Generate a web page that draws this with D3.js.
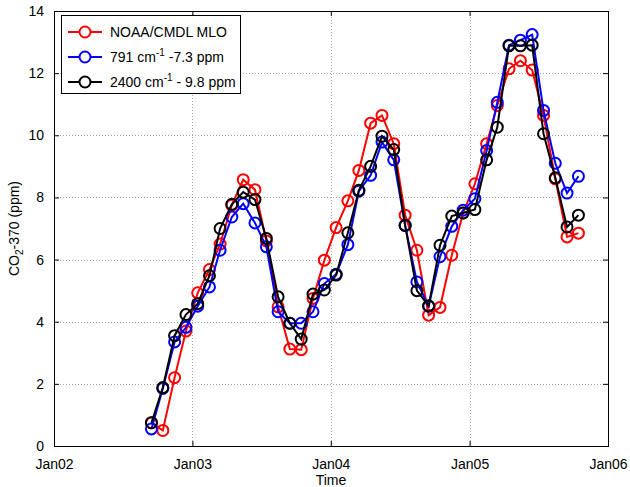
<!DOCTYPE html>
<html>
<head>
<meta charset="utf-8">
<script src="https://cdn.jsdelivr.net/npm/d3@7"></script>
<style>
  body { margin: 0; background: #fff; }
  svg { display: block; font-family: "Liberation Sans", Arial, sans-serif; }
</style>
</head>
<body>
<svg width="630" height="487"></svg>
<script>
// monthly values, Sep 2002 .. Oct 2005
const months = ["2002-09","2002-10","2002-11","2002-12","2003-01","2003-02","2003-03","2003-04",
  "2003-05","2003-06","2003-07","2003-08","2003-09","2003-10","2003-11","2003-12","2004-01",
  "2004-02","2004-03","2004-04","2004-05","2004-06","2004-07","2004-08","2004-09","2004-10",
  "2004-11","2004-12","2005-01","2005-02","2005-03","2005-04","2005-05","2005-06","2005-07",
  "2005-08","2005-09","2005-10"];

const noaa = [0.75, 0.5, 2.2, 3.7, 4.93, 5.68, 6.5, 7.75, 8.57, 8.25, 6.6, 4.48, 3.12, 3.1,
  4.75, 5.98, 7.03, 7.89, 8.87, 10.39, 10.64, 9.73, 7.43, 6.3, 4.21, 4.46, 6.14, 7.5, 8.44,
  9.73, 10.96, 12.14, 12.4, 12.1, 10.64, 8.6, 6.73, 6.85];

const band791 = [0.55, 1.85, 3.35, 3.82, 4.5, 5.12, 6.3, 7.37, 7.8, 7.18, 6.41, 4.32, 3.95, 3.95,
  4.32, 5.23, 5.53, 6.48, 8.2, 8.71, 9.78, 9.21, 7.1, 5.28, 4.5, 6.09, 7.07, 7.59, 7.96,
  9.51, 11.06, 12.9, 13.06, 13.24, 10.8, 9.1, 8.14, 8.68];

const band2400 = [0.75, 1.88, 3.55, 4.23, 4.58, 5.48, 7.0, 7.78, 8.17, 7.93, 6.68, 4.8, 3.95, 3.44,
  4.89, 5.02, 5.5, 6.86, 8.23, 9.0, 9.97, 9.54, 7.1, 5.0, 4.51, 6.46, 7.4, 7.5, 7.61,
  9.21, 10.26, 12.88, 12.88, 12.9, 10.05, 8.63, 7.05, 7.43];

const yTicks = [0, 2, 4, 6, 8, 10, 12, 14];
const xTickYears = [2002, 2003, 2004, 2005, 2006];

const svg = d3.select("svg");
const plotL = 54, plotR = 608, plotT = 11, plotB = 446;

const parseMonth = d3.timeParse("%Y-%m");
const dates = months.map(m => d3.timeDay.offset(parseMonth(m), 14)); // mid month

const x = d3.scaleTime()
  .domain([new Date(2002, 0, 1), new Date(2006, 0, 1)])
  .range([plotL, plotR]);
const y = d3.scaleLinear().domain([0, 14]).range([plotB, plotT]);

const xTicks = xTickYears.map(yr => new Date(yr, 0, 1));

// grid
const grid = svg.append("g")
  .attr("stroke", "#a8a8a8")
  .attr("stroke-width", 1)
  .attr("stroke-dasharray", "1,2");
grid.selectAll(".gx")
  .data(xTicks.slice(1, -1))
  .enter().append("line")
    .attr("x1", d => Math.round(x(d)) + 0.5)
    .attr("x2", d => Math.round(x(d)) + 0.5)
    .attr("y1", plotT)
    .attr("y2", plotB);
grid.selectAll(".gy")
  .data(yTicks.slice(1, -1))
  .enter().append("line")
    .attr("y1", d => Math.round(y(d)) + 0.5)
    .attr("y2", d => Math.round(y(d)) + 0.5)
    .attr("x1", plotL)
    .attr("x2", plotR);

// axes, ticks pointing inward like matlab
svg.append("g")
  .attr("transform", `translate(0,${plotB})`)
  .call(d3.axisBottom(x).tickValues(xTicks).tickFormat(d3.timeFormat("%b%y")).tickSizeInner(-5).tickSizeOuter(0).tickPadding(13));
svg.append("g")
  .attr("transform", `translate(0,${plotT})`)
  .call(d3.axisTop(x).tickValues(xTicks).tickFormat("").tickSizeInner(-5).tickSizeOuter(0));
svg.append("g")
  .attr("transform", `translate(${plotL},0)`)
  .call(d3.axisLeft(y).tickValues(yTicks).tickSizeInner(-5).tickSizeOuter(0).tickPadding(10));
svg.append("g")
  .attr("transform", `translate(${plotR},0)`)
  .call(d3.axisRight(y).tickValues(yTicks).tickFormat("").tickSizeInner(-5).tickSizeOuter(0));

svg.selectAll(".tick text")
  .attr("font-size", 14)
  .attr("font-family", "Liberation Sans, Arial, sans-serif")
  .attr("fill", "#000");
svg.selectAll(".domain").attr("stroke", "#000");

// box
svg.append("rect")
  .attr("x", plotL + 0.5).attr("y", plotT + 0.5)
  .attr("width", plotR - plotL).attr("height", plotB - plotT)
  .attr("fill", "none").attr("stroke", "#000");

// axis labels
svg.append("text")
  .attr("x", (plotL + plotR) / 2)
  .attr("y", 485)
  .attr("text-anchor", "middle")
  .attr("font-size", 14)
  .text("Time");

const ylab = svg.append("text")
  .attr("transform", `translate(19,${(plotT + plotB) / 2}) rotate(-90)`)
  .attr("text-anchor", "middle")
  .attr("font-size", 14);
ylab.append("tspan").text("CO");
ylab.append("tspan").attr("font-size", 10).attr("dy", 4).text("2");
ylab.append("tspan").attr("dy", -4).text("-370 (ppm)");

// series
const series = [
  {name: "NOAA/CMDL MLO", color: "#ff0000", values: noaa},
  {name: "791", color: "#0000ff", values: band791},
  {name: "2400", color: "#000000", values: band2400}
];

const line = d3.line()
  .x((d, i) => x(dates[i]))
  .y(d => y(d));

series.forEach(s => {
  const g = svg.append("g");
  g.append("path")
    .datum(s.values)
    .attr("d", line)
    .attr("fill", "none")
    .attr("stroke", s.color)
    .attr("stroke-width", 2);
  g.selectAll("circle")
    .data(s.values)
    .enter().append("circle")
      .attr("cx", (d, i) => x(dates[i]))
      .attr("cy", d => y(d))
      .attr("r", 5.5)
      .attr("fill", "none")
      .attr("stroke", s.color)
      .attr("stroke-width", 2);
});

// legend
const legend = svg.append("g");
legend.append("rect")
  .attr("x", 61.5).attr("y", 15.5)
  .attr("width", 179).attr("height", 78)
  .attr("fill", "#fff").attr("stroke", "#000");

const rowY = [32, 57, 82];
series.forEach((s, i) => {
  const ry = rowY[i];
  legend.append("line")
    .attr("x1", 68).attr("x2", 102)
    .attr("y1", ry).attr("y2", ry)
    .attr("stroke", s.color).attr("stroke-width", 2);
  legend.append("circle")
    .attr("cx", 85).attr("cy", ry).attr("r", 5.5)
    .attr("fill", "#fff").attr("stroke", s.color).attr("stroke-width", 2);
  const t = legend.append("text")
    .attr("x", 110).attr("y", ry + 5)
    .attr("font-size", 14);
  if (i === 0) {
    t.text(s.name);
  } else {
    const off = i === 1 ? " -7.3 ppm" : " - 9.8 ppm";
    t.append("tspan").text(s.name + " cm");
    t.append("tspan").attr("font-size", 10).attr("dy", -6).text("-1");
    t.append("tspan").attr("dy", 6).text(off);
  }
});
</script>
</body>
</html>
